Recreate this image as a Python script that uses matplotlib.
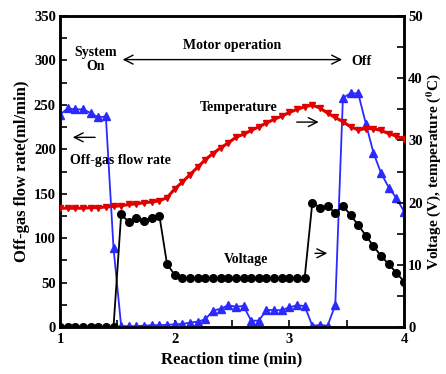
import matplotlib
matplotlib.use('Agg')
import matplotlib.pyplot as plt
import numpy as np

# sample times every 4 s (min)
time_min = [1 + i / 15 for i in range(46)]

flow_ml_min = [239, 246, 245, 245, 241, 236, 237, 89, 1, 1,
               1, 1.5, 2, 2, 2.5, 3, 3.4, 4.9, 6, 8.6,
               18.3, 20.6, 24.4, 22.9, 23.6, 7.1, 7.1, 19.1, 19.1, 18.8,
               22.2, 24.4, 23.6, 1.5, 2.2, 1.5, 24.7, 258, 263, 263,
               229, 196, 173, 157, 145, 130]

voltage_v = [0, 0, 0, 0, 0, 0, 0, 0, 18.1, 16.9,
             17.6, 17.0, 17.6, 17.9, 10.1, 8.4, 7.9, 7.9, 7.9, 7.9,
             7.9, 7.9, 7.9, 7.9, 7.9, 7.9, 7.9, 7.9, 7.9, 7.9,
             7.9, 7.9, 7.9, 20.0, 19.2, 19.5, 18.3, 19.5, 18.0, 16.4,
             14.7, 13.0, 11.4, 10.1, 8.7, 7.3]

temperature_c = [19.1, 19.1, 19.1, 19.1, 19.2, 19.2, 19.3, 19.4, 19.5, 19.7,
                 19.8, 20.0, 20.1, 20.3, 20.8, 22.2, 23.3, 24.5, 25.7, 26.9,
                 27.9, 28.8, 29.6, 30.5, 31.0, 31.6, 32.2, 32.8, 33.4, 33.9,
                 34.5, 35.0, 35.4, 35.7, 35.2, 34.4, 33.7, 33.0, 32.2, 31.7,
                 31.9, 31.9, 31.6, 31.1, 30.7, 30.2]

plt.rcParams['font.family'] = 'Liberation Serif'
plt.rcParams['font.weight'] = 'bold'
plt.rcParams['mathtext.fontset'] = 'stix'

fig = plt.figure(figsize=(4.46, 3.74), dpi=100)
ax = fig.add_axes([0.1345, 0.1257, 0.7715, 0.8313])
ax2 = ax.twinx()

ax.plot(time_min, flow_ml_min, color='#2a2aff', lw=1.3, marker='^', ms=5.5, zorder=3)
ax2.plot(time_min, temperature_c, color='#e00000', lw=2.2, marker='v', ms=5, zorder=3)
ax2.plot(time_min, voltage_v, color='black', lw=1.3, marker='o', ms=5.5, zorder=4)

ax.set_xlim(1, 4)
ax.set_ylim(0, 350)
ax2.set_ylim(0, 50)
ax.set_xticks([1, 2, 3, 4])
ax.set_xticks([1.5, 2.5, 3.5], minor=True)
ax.set_yticks(np.arange(0, 351, 50))
ax.set_yticks(np.arange(25, 350, 50), minor=True)
ax2.set_yticks(np.arange(0, 51, 10))
ax2.set_yticks(np.arange(5, 50, 10), minor=True)

for a in (ax, ax2):
    a.tick_params(which='both', direction='in', labelsize=10.5, width=1.2)
    a.tick_params(which='major', length=5)
    a.tick_params(which='minor', length=5)
    for s in a.spines.values():
        s.set_linewidth(1.8)
ax.tick_params(axis='x', pad=4)
ax.tick_params(axis='y', right=False, pad=3)
ax2.tick_params(axis='y', pad=3)

ax.set_xlabel('Reaction time (min)', fontsize=12, fontweight='bold', labelpad=4)
ax.set_ylabel('Off-gas flow rate(ml/min)', fontsize=12, fontweight='bold', labelpad=3)
ax2.set_ylabel(r'Voltage (V), temperature ($^\mathbf{0}$C)', fontsize=11,
               fontweight='bold', labelpad=1)

# annotations (axes-fraction coordinates)
tk = dict(ha='center', va='center', fontsize=10, fontweight='bold')
ax.text(0.105, 0.86, 'System\nOn', transform=ax.transAxes, linespacing=1.05, **tk)
ax.text(0.50, 0.905, 'Motor operation', transform=ax.transAxes, **tk)
ax.text(0.875, 0.855, 'Off', transform=ax.transAxes, **tk)
ax.text(0.52, 0.705, 'Temperature', transform=ax.transAxes, **tk)
ax.text(0.177, 0.537, 'Off-gas flow rate', transform=ax.transAxes, **tk)
ax.text(0.54, 0.218, 'Voltage', transform=ax.transAxes, **tk)

arr = dict(arrowstyle='->', color='black', lw=1.0, mutation_scale=16)
ax.annotate('', xy=(0.174, 0.86), xytext=(0.828, 0.86), xycoords='axes fraction',
            arrowprops=dict(arrowstyle='<->', color='black', lw=1.0, mutation_scale=16))
ax.annotate('', xy=(0.76, 0.659), xytext=(0.68, 0.659), xycoords='axes fraction',
            arrowprops=arr)
ax.annotate('', xy=(0.029, 0.61), xytext=(0.11, 0.61), xycoords='axes fraction',
            arrowprops=arr)
ax.annotate('', xy=(0.785, 0.237), xytext=(0.733, 0.237), xycoords='axes fraction',
            arrowprops=arr)

fig.savefig('out.png', dpi=100)
